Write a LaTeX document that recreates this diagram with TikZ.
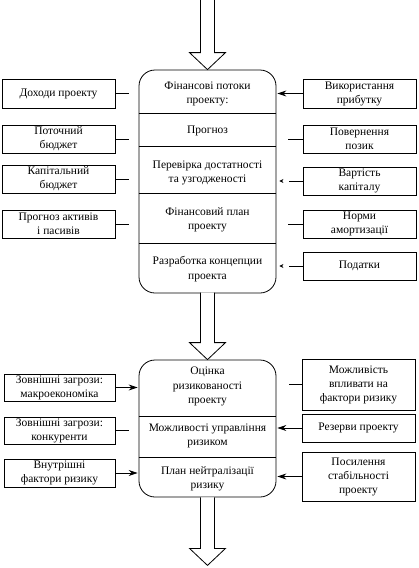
\documentclass[tikz,border=0pt]{standalone}
\usepackage{fontspec}
\setmainfont{Liberation Serif}
\usetikzlibrary{arrows.meta,calc}
\begin{document}
\begin{tikzpicture}[x=1pt,y=-1pt,
  box/.style={draw, line width=0.8pt, minimum width=113pt, inner sep=1pt, align=center, font=\fontsize{11.5}{14}\selectfont},
  mainbox/.style={draw, line width=0.8pt, rounded corners=16pt, minimum width=137pt, inner sep=0pt},
  txt/.style={align=center, inner sep=0pt, font=\fontsize{11.5}{14.5}\selectfont},
  divider/.style={line width=0.8pt},
  conn/.style={line width=0.8pt},
  arr/.style={line width=0.8pt, -{Stealth[length=9pt,width=6pt]}, shorten >=1pt},
  brokenarr/.style={line width=0.8pt, dash pattern=on 14pt off 30pt, -{Stealth[length=4pt,width=4pt]}, shorten >=3pt},
  blk/.style={line width=0.8pt, fill=white}
]
\useasboundingbox (0,0) rectangle (419,568);

% ---------- main box 1 ----------
\node[mainbox, minimum height=223pt] (m1) at (207.5,181.5) {};
\draw[divider] (m1.west |- 0,113) -- (m1.east |- 0,113);
\draw[divider] (m1.west |- 0,146) -- (m1.east |- 0,146);
\draw[divider] (m1.west |- 0,193) -- (m1.east |- 0,193);
\draw[divider] (m1.west |- 0,243) -- (m1.east |- 0,243);
\node[txt] (s1) at (207.5,94) {Фінансові потоки\\проекту:};
\node[txt] (s2) at (207.5,131) {Прогноз};
\node[txt] (s3) at (207.5,173) {Перевірка достатності\\та узгодженості};
\node[txt] (s4) at (207.5,220) {Фінансовий план\\проекту};
\node[txt] (s5) at (207.5,269) {Разработка концепции\\проекта};

% ---------- left boxes 1 ----------
\node[box, minimum height=29pt] (L1) at (58.5,93.5) {Доходи проекту};
\node[box, minimum height=28pt] (L2) at (58.5,139) {Поточний\\бюджет};
\node[box, minimum height=28pt] (L3) at (58.5,179) {Капітальний\\бюджет};
\node[box, minimum height=28pt] (L4) at (58.5,224) {Прогноз активів\\і пасивів};

% ---------- right boxes 1 ----------
\node[box, minimum height=29pt] (R1) at (359.5,93.5) {Використання\\прибутку};
\node[box, minimum height=28pt] (R2) at (359.5,139) {Повернення\\позик};
\node[box, minimum height=28pt] (R3) at (359.5,181) {Вартість\\капіталу};
\node[box, minimum height=28pt] (R4) at (359.5,224) {Норми\\амортизації};
\node[box, minimum height=28pt] (R5) at (359.5,266) {Податки};

\draw[conn, shorten >=10pt] (L1.east) -- (L1.east -| m1.west);
\draw[conn, shorten >=10pt] (L2.east) -- (L2.east -| m1.west);
\draw[conn, shorten >=10pt] (L3.east) -- (L3.east -| m1.west);
\draw[conn, shorten >=10pt] (L4.east) -- (L4.east -| m1.west);

\draw[arr] (R1.west) -- (R1.west -| m1.east);
\draw[conn, shorten >=12pt] (R2.west) -- (R2.west -| m1.east);
\draw[brokenarr] (R3.west) -- (R3.west -| m1.east);
\draw[conn, shorten >=12pt] (R4.west) -- (R4.west -| m1.east);
\draw[brokenarr] (R5.west) -- (R5.west -| m1.east);

% ---------- main box 2 ----------
\node[mainbox, minimum height=137pt] (m2) at (207.5,428.5) {};
\draw[divider] (m2.west |- 0,416) -- (m2.east |- 0,416);
\draw[divider] (m2.west |- 0,457) -- (m2.east |- 0,457);
\node[txt] (t1) at (207.5,386.5) {Оцінка\\ризикованості\\проекту};
\node[txt] (t2) at (207.5,436) {Можливості управління\\ризиком};
\node[txt] (t3) at (207.5,479) {План нейтралізації\\ризику};

% ---------- left boxes 2 ----------
\node[box, minimum width=111pt, minimum height=27pt] (LB1) at (59.5,387.5) {Зовнішні загрози:\\макроекономіка};
\node[box, minimum width=111pt, minimum height=27pt] (LB2) at (59.5,430.5) {Зовнішні загрози:\\конкуренти};
\node[box, minimum width=111pt, minimum height=28pt] (LB3) at (59.5,473) {Внутрішні\\фактори ризику};

% ---------- right boxes 2 ----------
\node[box, minimum height=51pt] (RB1) at (358.5,384.5) {Можливість\\впливати на\\фактори ризику};
\node[box, minimum height=28pt] (RB2) at (358.5,428) {Резерви проекту};
\node[box, minimum height=49pt] (RB3) at (358.5,476.5) {Посилення\\стабільності\\проекту};

\draw[arr] (LB1.east) -- (LB1.east -| m2.west);
\draw[conn, shorten >=10pt] (LB2.east) -- (LB2.east -| m2.west);
\draw[arr] (LB3.east) -- (LB3.east -| m2.west);

\draw[conn, shorten >=13pt] (RB1.west) -- (RB1.west -| m2.east);
\draw[arr] (RB2.west) -- (RB2.west -| m2.east);
\draw[arr] (RB3.west) -- (RB3.west -| m2.east);

% ---------- block arrows ----------
\draw[blk] ($(m1.north)+(-7,-70)$) -- ++(0,53) -- ++(-11,0) -- (m1.north) -- ++(18,-17) -- ++(-11,0) -- ++(0,-53);
\draw[blk] ($(m2.north)+(-7,-67)$) -- ++(0,50) -- ++(-11,0) -- (m2.north) -- ++(18,-17) -- ++(-11,0) -- ++(0,-50);
\coordinate (endtip) at ($(m2.south)+(0,68)$);
\draw[blk] ($(endtip)+(-7,-68)$) -- ++(0,51) -- ++(-11,0) -- (endtip) -- ++(18,-17) -- ++(-11,0) -- ++(0,-51);
\end{tikzpicture}
\end{document}
